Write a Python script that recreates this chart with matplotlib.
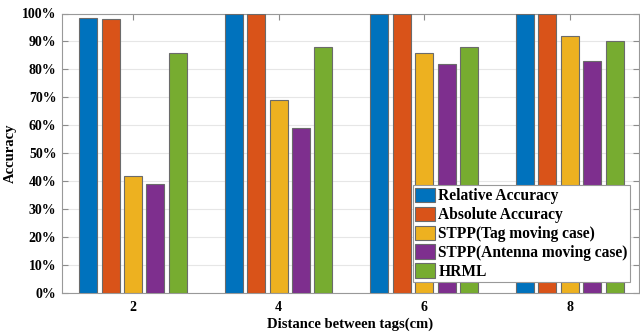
import matplotlib
matplotlib.use("Agg")
import matplotlib.pyplot as plt
import numpy as np

distances = [2, 4, 6, 8]
series_names = ["Relative Accuracy", "Absolute Accuracy", "STPP(Tag moving case)",
                "STPP(Antenna moving case)", "HRML"]
relative = [98.5, 99.8, 100, 100]
absolute = [98.0, 100, 100, 100]
stpp_tag = [42, 69, 86, 92]
stpp_ant = [39, 59, 82, 83]
hrml = [85.8, 88, 88, 90]
colors = ["#0072BD", "#D95319", "#EDB120", "#7E2F8E", "#77AC30"]
yticks = list(range(0, 101, 10))
ytick_labels = [f"{v}%" for v in yticks]

plt.rcParams['font.family'] = ['Liberation Serif', 'DejaVu Serif']
plt.rcParams['font.weight'] = 'bold'

fig = plt.figure(figsize=(6.4, 3.33), dpi=100)
ax = fig.add_axes([62/640, 40/333, 577/640, 279.5/333])

data = [relative, absolute, stpp_tag, stpp_ant, hrml]
step = 0.308
width = 0.247
x = np.array(distances, dtype=float)
for i, (vals, name, c) in enumerate(zip(data, series_names, colors)):
    ax.bar(x + (i - 2) * step, vals, width=width, color=c, edgecolor='0.42',
           linewidth=0.8, label=name, zorder=3)

ax.set_xlim(1.025, 8.95)
ax.set_ylim(0, 100)
ax.set_xticks(distances)
ax.set_xticklabels([str(d) for d in distances], fontsize=10, fontweight='bold')
ax.set_yticks(yticks)
ax.set_yticklabels(ytick_labels, fontsize=10, fontweight='bold')
ax.tick_params(direction='in', top=True, right=True, length=4, width=0.8,
               color='0.55', pad=4)
ax.tick_params(axis='x', pad=6)
ax.grid(axis='y', color='0.9', linewidth=0.8, zorder=0)
for s in ax.spines.values():
    s.set_color('0.6')
    s.set_linewidth(0.8)

ax.set_xlabel("Distance between tags(cm)", fontsize=10.5, fontweight='bold', labelpad=2)
ax.set_ylabel("Accuracy", fontsize=10.5, fontweight='bold', labelpad=4)

leg = ax.legend(loc='lower left', bbox_to_anchor=(0.608, 0.039), borderaxespad=0,
                frameon=True, fancybox=False, edgecolor='0.6',
                framealpha=1, handlelength=1.3, handleheight=1.05, handletextpad=0.2,
                labelspacing=0.15, borderpad=0.15, prop={'weight': 'bold', 'size': 11.2})
leg.get_frame().set_linewidth(0.8)

fig.savefig("out.png", dpi=100)
